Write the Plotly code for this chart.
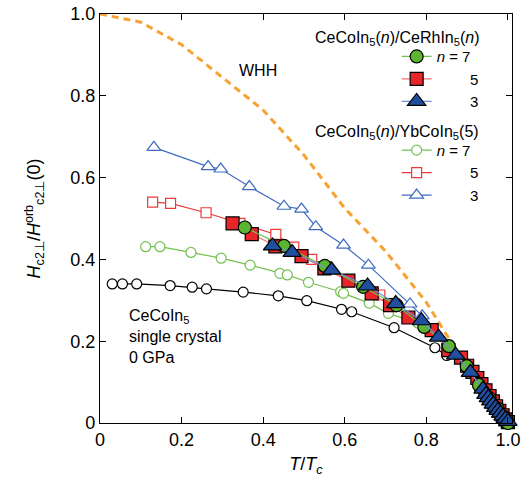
import plotly.graph_objects as go

# ---------------- data ----------------
whh_T = [0.0, 0.1, 0.2, 0.3, 0.4, 0.5, 0.6, 0.7, 0.8, 0.85, 0.9, 0.95, 1.0]
whh_H = [1.0, 0.98, 0.925, 0.845, 0.765, 0.655, 0.525, 0.42, 0.295, 0.215, 0.145, 0.075, 0.0]

bulk_T = [0.030, 0.055, 0.090, 0.172, 0.226, 0.261, 0.351, 0.437, 0.507, 0.592, 0.617, 0.721, 0.821, 0.85]
bulk_H = [0.340, 0.340, 0.340, 0.336, 0.332, 0.328, 0.320, 0.311, 0.299, 0.278, 0.272, 0.233, 0.184, 0.165]

yb7_T = [0.112, 0.147, 0.223, 0.297, 0.368, 0.441, 0.459, 0.511, 0.590, 0.597, 0.660, 0.707, 0.780, 0.80]
yb7_H = [0.431, 0.431, 0.417, 0.403, 0.386, 0.366, 0.362, 0.344, 0.321, 0.317, 0.293, 0.268, 0.244, 0.232]

yb5_T = [0.129, 0.173, 0.260, 0.343, 0.431, 0.475, 0.519, 0.609, 0.686, 0.72]
yb5_H = [0.540, 0.537, 0.514, 0.488, 0.461, 0.430, 0.400, 0.350, 0.313, 0.290]

yb3_T = [0.132, 0.265, 0.296, 0.366, 0.451, 0.494, 0.529, 0.597, 0.658, 0.760, 0.79]
yb3_H = [0.674, 0.627, 0.621, 0.578, 0.530, 0.523, 0.480, 0.435, 0.386, 0.291, 0.262]

rh7_T = [0.355, 0.451, 0.551, 0.645, 0.727, 0.795, 0.855, 0.899, 0.929, 0.955, 0.975, 0.990, 1.0]
rh7_H = [0.478, 0.433, 0.384, 0.333, 0.288, 0.235, 0.188, 0.139, 0.093, 0.060, 0.035, 0.015, 0.0]

rh5_T = [0.325, 0.372, 0.430, 0.494, 0.550, 0.609, 0.666, 0.711, 0.756, 0.813, 0.854, 0.885, 0.900, 0.913,
         0.925, 0.935, 0.945, 0.955, 0.963, 0.971, 0.979, 0.987, 0.994, 1.0]
rh5_H = [0.488, 0.462, 0.432, 0.408, 0.378, 0.348, 0.317, 0.288, 0.258, 0.227, 0.178, 0.160, 0.140, 0.125,
         0.110, 0.095, 0.080, 0.066, 0.053, 0.041, 0.030, 0.019, 0.009, 0.002]

rh3_T = [0.423, 0.471, 0.568, 0.656, 0.725, 0.788, 0.830, 0.872, 0.908, 0.939, 0.946, 0.952, 0.958, 0.964,
         0.970, 0.976, 0.982, 0.988, 0.994, 1.0]
rh3_H = [0.433, 0.417, 0.374, 0.335, 0.292, 0.250, 0.210, 0.166, 0.124, 0.083, 0.070, 0.062, 0.054, 0.046,
         0.038, 0.031, 0.024, 0.017, 0.010, 0.004]

tick_vals = [0, 0.2, 0.4, 0.6, 0.8, 1.0]
tick_text = ["0", "0.2", "0.4", "0.6", "0.8", "1.0"]

# ---------------- styles ----------------
FONT = "Arial, Liberation Sans, sans-serif"
GREEN_L = "#72c150"
GREEN_F = "#5cb531"
RED_L = "#ec3a3a"
RED_F = "#e8262a"
BLUE_L = "#3e6cbf"
BLUE_F = "#1f4f9e"
ORANGE = "#f7a232"

fig = go.Figure()

fig.add_trace(go.Scatter(x=whh_T, y=whh_H, mode="lines", showlegend=False,
                         line=dict(color=ORANGE, width=3, dash="7px,5px")))

def open_trace(x, y, color, symbol, size, name, legend, rank, show=True):
    fig.add_trace(go.Scatter(
        x=x, y=y, mode="lines+markers", name=name, legend=legend, legendrank=rank,
        showlegend=show, cliponaxis=False,
        line=dict(color=color, width=1.2),
        marker=dict(symbol=symbol, size=size, color="white", line=dict(color=color, width=1.2),
                    maxdisplayed=0)))

def filled_trace(x, y, lcolor, fcolor, symbol, size, name, legend, rank):
    fig.add_trace(go.Scatter(
        x=x, y=y, mode="lines+markers", name=name, legend=legend, legendrank=rank,
        cliponaxis=False,
        line=dict(color=lcolor, width=1.2),
        marker=dict(symbol=symbol, size=size, color=fcolor, line=dict(color="black", width=1.2))))

NB = "\u00a0"
open_trace(bulk_T, bulk_H, "black", "circle", 10, "bulk", "legend", 1, show=False)
open_trace(yb7_T, yb7_H, GREEN_L, "circle", 10, "<i>n</i> = 7", "legend2", 1)
open_trace(yb5_T, yb5_H, RED_L, "square", 10, NB * 8 + "5", "legend2", 2)
open_trace(yb3_T, yb3_H, BLUE_L, "triangle-up", 12, NB * 8 + "3", "legend2", 3)

filled_trace(rh5_T, rh5_H, "#f07070", RED_F, "square", 13, NB * 8 + "5", "legend", 2)
filled_trace(rh7_T, rh7_H, GREEN_L, GREEN_F, "circle", 13, "<i>n</i> = 7", "legend", 1)
filled_trace(rh3_T, rh3_H, "#6f93d3", BLUE_F, "triangle-up", 16, NB * 8 + "3", "legend", 3)

# ---------------- layout ----------------
axis_common = dict(
    showline=True, linecolor="black", linewidth=1.3, mirror="allticks",
    ticks="inside", ticklen=6, tickwidth=1.2, tickcolor="black",
    tickvals=tick_vals, ticktext=tick_text, showgrid=False, zeroline=False,
    automargin=False,
    tickfont=dict(family=FONT, size=18, color="black"),
)

fig.update_layout(
    width=527, height=497,
    margin=dict(l=100, r=15, t=14, b=74),
    paper_bgcolor="white", plot_bgcolor="white",
    font=dict(family=FONT, color="black"),
    xaxis=dict(range=[0, 1.01], title=dict(text="<i>T</i>/<i>T<sub>c</sub></i>",
               font=dict(family=FONT, size=18), standoff=8), **axis_common),
    yaxis=dict(range=[0, 1.0], title=dict(
        text="<i>H</i><sub>c2⊥</sub>/<i>H</i><sup>orb</sup><sub>c2⊥</sub>(0)",
        font=dict(family=FONT, size=18), standoff=24), **axis_common),
    legend=dict(x=0.72, y=0.936, xanchor="left", yanchor="top", bgcolor="rgba(0,0,0,0)",
                font=dict(family=FONT, size=15), tracegroupgap=0, itemwidth=30,
                traceorder="normal"),
    legend2=dict(x=0.72, y=0.707, xanchor="left", yanchor="top", bgcolor="rgba(0,0,0,0)",
                 font=dict(family=FONT, size=15), tracegroupgap=0, itemwidth=30,
                 traceorder="normal"),
    annotations=[
        dict(x=0.336, y=0.863, xref="x", yref="y", xanchor="left", yanchor="middle",
             text="WHH", showarrow=False, font=dict(family=FONT, size=16)),
        dict(x=0.065, y=0.211, xref="x", yref="y", xanchor="left", yanchor="middle", align="left",
             text="CeCoIn<sub>5</sub><br>single crystal<br>0 GPa", showarrow=False,
             font=dict(family=FONT, size=16)),
        dict(x=(482 - 100) / 412, y=(423 - 38) / 409, xref="paper", yref="paper", xanchor="right",
             yanchor="middle", text="CeCoIn<sub>5</sub>(<i>n</i>)/CeRhIn<sub>5</sub>(<i>n</i>)",
             showarrow=False, font=dict(family=FONT, size=16)),
        dict(x=(481 - 100) / 412, y=(423 - 132) / 409, xref="paper", yref="paper", xanchor="right",
             yanchor="middle", text="CeCoIn<sub>5</sub>(<i>n</i>)/YbCoIn<sub>5</sub>(5)",
             showarrow=False, font=dict(family=FONT, size=16)),
    ],
)

fig.write_html("out.html")
